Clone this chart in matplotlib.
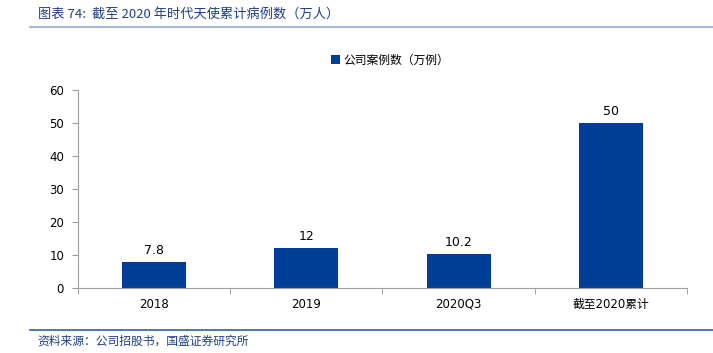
import matplotlib
matplotlib.use('Agg')
import matplotlib.pyplot as plt
from matplotlib.lines import Line2D

plt.rcParams['font.family'] = ['Noto Sans CJK SC', 'DejaVu Sans']

categories = ['2018', '2019', '2020Q3', '截至2020累计']
values = [7.8, 12, 10.2, 50]
labels = ['7.8', '12', '10.2', '50']
yticks = [0, 10, 20, 30, 40, 50, 60]

bar_color = '#003E98'
line_color = '#2E5FA8'
text_blue = '#1F3E8C'
num_font = ['DejaVu Sans', 'Noto Sans CJK SC']

fig = plt.figure(figsize=(7.13, 3.53), dpi=100)
ax = fig.add_axes([0.1094, 0.1841, 0.8541, 0.5609])

x = range(len(categories))
ax.bar(x, values, width=0.42, color=bar_color, label='公司案例数（万例）')
for xi, v, t in zip(x, values, labels):
    ax.text(xi, v + 1.5, t, ha='center', va='bottom', fontsize=9, family=num_font)

ax.set_xlim(-0.5, len(categories) - 0.5)
ax.set_ylim(0, 60)
ax.set_yticks(yticks)
ax.set_yticklabels([str(t) for t in yticks], fontsize=8.5, family=num_font)
ax.set_xticks(list(x))
ax.set_xticklabels(categories, fontsize=8.5, family=num_font)
ax.tick_params(axis='x', length=0, pad=7)
ax.set_xticks([i - 0.5 for i in range(len(categories) + 1)], minor=True)
ax.tick_params(axis='x', which='minor', length=4, color='#999999', direction='out')
ax.tick_params(axis='y', length=4, color='#999999', direction='out', pad=6)

for s in ['top', 'right']:
    ax.spines[s].set_visible(False)
for s in ['left', 'bottom']:
    ax.spines[s].set_color('#A0A0A0')
    ax.spines[s].set_linewidth(0.8)

leg = fig.legend(loc='center', bbox_to_anchor=(0.547, 0.83), frameon=False,
                 fontsize=8.5, handlelength=0.8, handleheight=0.8, handletextpad=0.3)

fig.text(0.053, 0.96, '图表 74:  截至 2020 年时代天使累计病例数（万人）', fontsize=9.5,
         color=text_blue, ha='left', va='center', style='italic')
fig.add_artist(Line2D([0.042, 1.0], [0.924, 0.924], color='#8FA9D4', lw=1.2))
fig.add_artist(Line2D([0.042, 1.0], [0.066, 0.066], color=line_color, lw=1.2))
fig.text(0.053, 0.035, '资料来源：公司招股书，国盛证券研究所', fontsize=8.5,
         color=text_blue, ha='left', va='center', style='italic')

fig.savefig('out.png', dpi=100)
